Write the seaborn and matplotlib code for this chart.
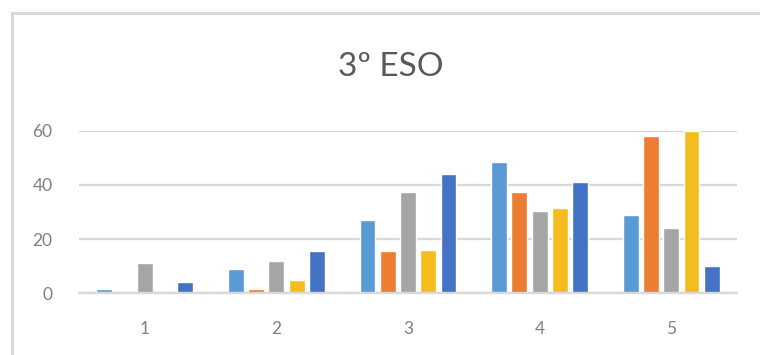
import matplotlib
matplotlib.use('Agg')
from matplotlib import pyplot as plt
from matplotlib.patches import Rectangle
import pandas as pd
import seaborn as sns

# data
groups = ['1', '2', '3', '4', '5']
series_names = ['Serie 1', 'Serie 2', 'Serie 3', 'Serie 4', 'Serie 5']
serie_1 = [1.5, 9, 27, 48.5, 29]
serie_2 = [0, 1.5, 15.5, 37.5, 58]
serie_3 = [11, 12, 37.5, 30.5, 24]
serie_4 = [0, 5, 16, 31.5, 60]
serie_5 = [4, 15.5, 44, 41, 10]
y_ticks = [0, 20, 40, 60]

colors = ['#5B9BD5', '#ED7D31', '#A5A5A5', '#F4BC1D', '#4472C4']

rows = []
for name, values in zip(series_names, [serie_1, serie_2, serie_3, serie_4, serie_5]):
    for g, v in zip(groups, values):
        rows.append({'grupo': g, 'serie': name, 'valor': v})
df = pd.DataFrame(rows)

sns.set_style('white')
plt.rcParams['font.family'] = ['Lato', 'DejaVu Sans']

fig = plt.figure(figsize=(7.6, 3.55), dpi=100)
ax = fig.add_axes([79 / 760, (355 - 293) / 355, (737 - 79) / 760, (293 - 131) / 355])

sns.barplot(data=df, x='grupo', y='valor', hue='serie', order=groups, hue_order=series_names,
            palette=colors, width=0.77, gap=0.22, saturation=1, legend=False, ax=ax)

# axes look
ax.set_ylim(0, 60)
ax.set_yticks(y_ticks)
ax.set_xlim(-0.5, 4.5)
ax.set_xlabel('')
ax.set_ylabel('')
ax.yaxis.grid(True, color='#D9D9D9', linewidth=1.7)
ax.set_axisbelow(True)
for side in ['top', 'right', 'left']:
    ax.spines[side].set_visible(False)
ax.spines['bottom'].set_color('#D9D9D9')
ax.spines['bottom'].set_linewidth(1.7)
ax.tick_params(axis='both', length=0, colors='#808080', labelsize=12.5)
ax.tick_params(axis='x', pad=20)
ax.tick_params(axis='y', pad=19)

# title
fig.text(391 / 760, 1 - 67 / 355, '3º ESO', ha='center', va='center', fontsize=24, color='#595959')

# chart border
fig.add_artist(Rectangle((11.5 / 760, -0.1), 1.2, 1.1 - 13.5 / 355, transform=fig.transFigure,
                         fill=False, edgecolor='#D9D9D9', linewidth=2.2))

fig.savefig('out.png', dpi=100)
